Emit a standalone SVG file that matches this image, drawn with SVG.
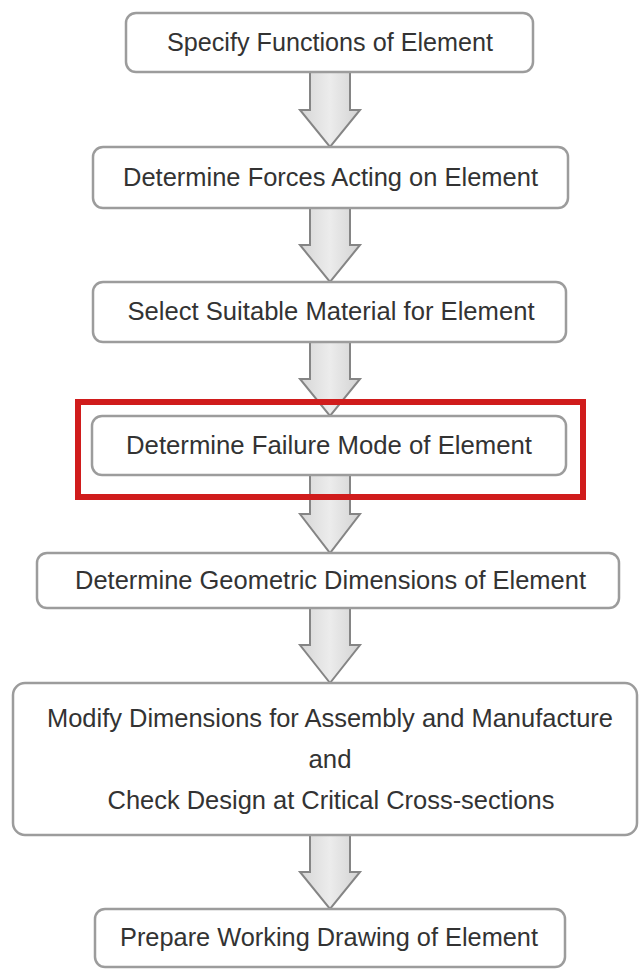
<svg xmlns="http://www.w3.org/2000/svg" width="640" height="969" viewBox="0 0 640 969">
<style>
.box{fill:#ffffff;stroke:#9c9c9c;stroke-width:2.5}
.lbl{font-family:"Liberation Sans",Arial,sans-serif;font-size:25px;fill:#333333;text-anchor:middle}
.arr{fill:url(#ag);stroke:#858585;stroke-width:2;stroke-linejoin:miter}
.hl{fill:none;stroke:#d01c1c;stroke-width:6}
</style>
<defs>
<linearGradient id="ag" x1="0" y1="0" x2="1" y2="0">
<stop offset="0" stop-color="#d6d6d6"/>
<stop offset="0.5" stop-color="#ececec"/>
<stop offset="1" stop-color="#d2d2d2"/>
</linearGradient>
</defs>
<rect width="640" height="969" fill="#ffffff"/>
<g id="connectors">
<path class="arr" d="M310,72 L350,72 L350,110 L360,110 L330,147 L300,110 L310,110 Z"/>
<path class="arr" d="M310,208 L350,208 L350,245 L360,245 L330,282 L300,245 L310,245 Z"/>
<path class="arr" d="M310,342 L350,342 L350,379 L360,379 L330,416 L300,379 L310,379 Z"/>
<path class="arr" d="M310,475 L350,475 L350,514 L360,514 L330,553 L300,514 L310,514 Z"/>
<path class="arr" d="M310,608 L350,608 L350,645 L360,645 L330,683 L300,645 L310,645 Z"/>
<path class="arr" d="M310,835 L350,835 L350,872 L360,872 L330,909 L300,872 L310,872 Z"/>
</g>
<g id="n1">
<rect class="box" x="126" y="13" width="407" height="59" rx="10"/>
<text class="lbl" x="330" y="51" textLength="326" lengthAdjust="spacingAndGlyphs">Specify Functions of Element</text>
</g>
<g id="n2">
<rect class="box" x="93" y="147" width="475" height="61" rx="10"/>
<text class="lbl" x="330.5" y="186" textLength="415" lengthAdjust="spacingAndGlyphs">Determine Forces Acting on Element</text>
</g>
<g id="n3">
<rect class="box" x="93" y="282" width="473" height="60" rx="10"/>
<text class="lbl" x="331" y="320" textLength="407" lengthAdjust="spacingAndGlyphs">Select Suitable Material for Element</text>
</g>
<g id="n4">
<rect class="box" x="92" y="416" width="474" height="59" rx="10"/>
<text class="lbl" x="329" y="454" textLength="406" lengthAdjust="spacingAndGlyphs">Determine Failure Mode of Element</text>
</g>
<g id="highlight">
<rect class="hl" x="78" y="402" width="505" height="95"/>
</g>
<g id="n5">
<rect class="box" x="37" y="553" width="582" height="55" rx="10"/>
<text class="lbl" x="330.5" y="589" textLength="511" lengthAdjust="spacingAndGlyphs">Determine Geometric Dimensions of Element</text>
</g>
<g id="n6">
<rect class="box" x="13" y="683" width="624" height="152" rx="12"/>
<text class="lbl" x="330" y="727" textLength="566" lengthAdjust="spacingAndGlyphs">Modify Dimensions for Assembly and Manufacture</text>
<text class="lbl" x="330" y="768" textLength="43" lengthAdjust="spacingAndGlyphs">and</text>
<text class="lbl" x="331" y="809" textLength="447" lengthAdjust="spacingAndGlyphs">Check Design at Critical Cross-sections</text>
</g>
<g id="n7">
<rect class="box" x="95" y="909" width="470" height="58" rx="10"/>
<text class="lbl" x="329" y="946" textLength="418" lengthAdjust="spacingAndGlyphs">Prepare Working Drawing of Element</text>
</g>
</svg>
